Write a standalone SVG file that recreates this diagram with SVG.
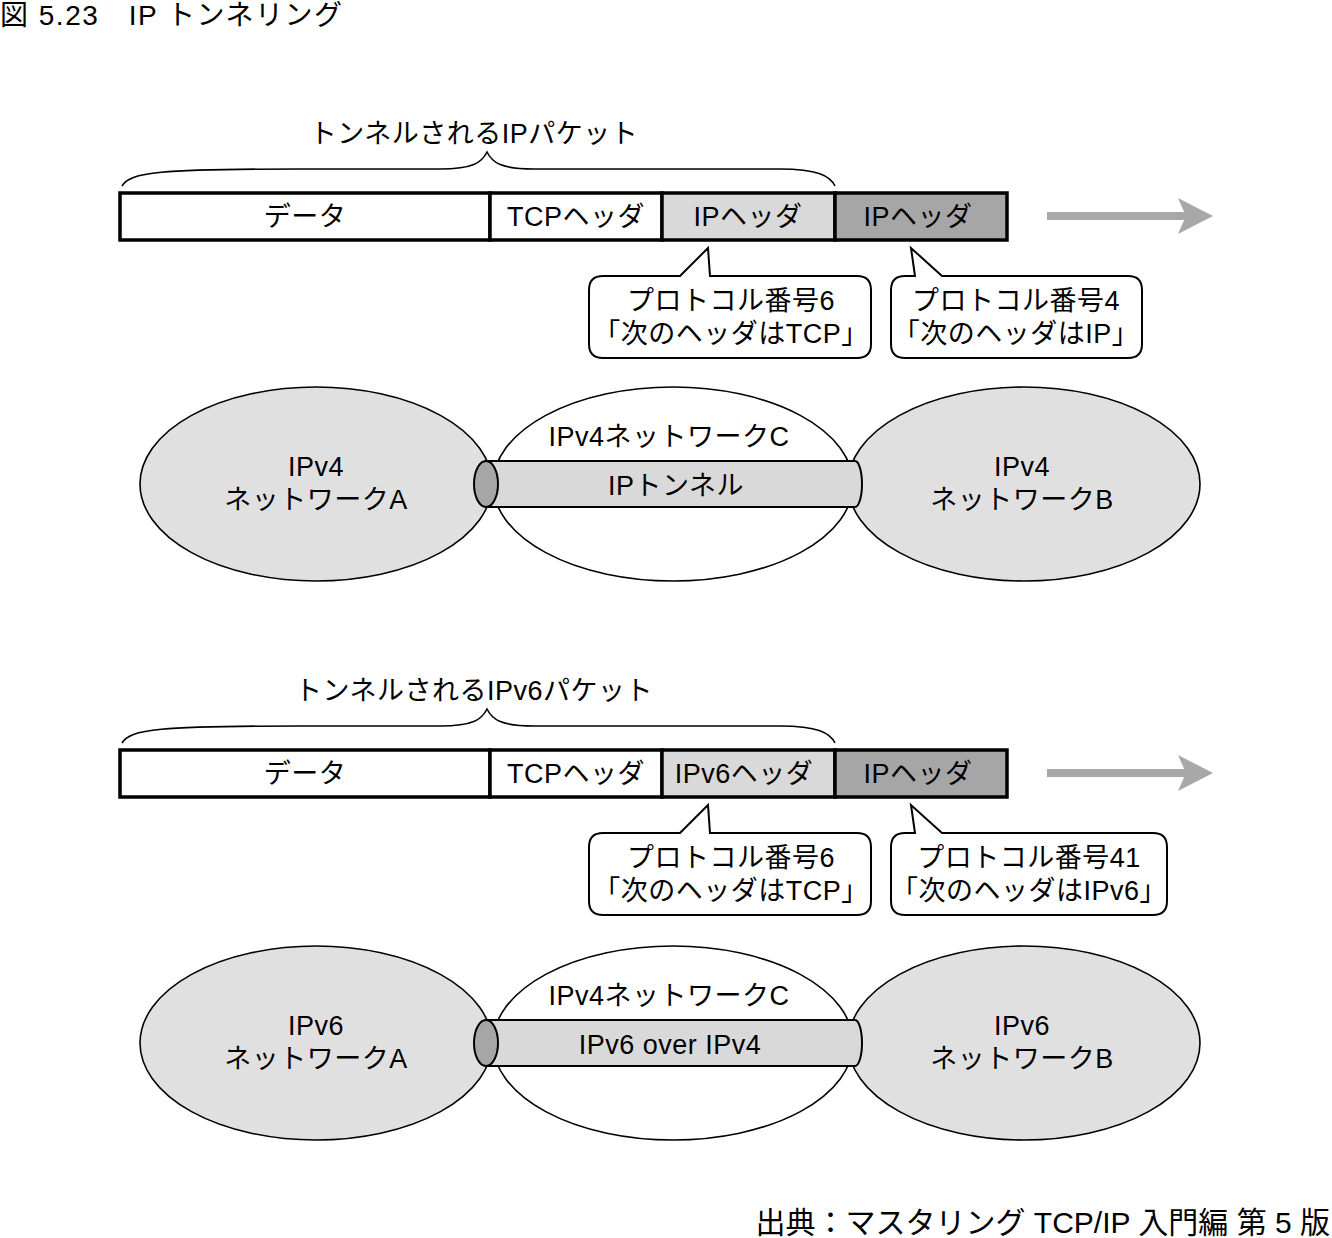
<svg xmlns="http://www.w3.org/2000/svg" width="1332" height="1238" viewBox="0 0 1332 1238">
<style>
text{font-family:"Liberation Sans","Noto Sans CJK JP",sans-serif;font-size:27px;fill:#000;text-anchor:middle;letter-spacing:0.5px}
.t{text-anchor:start}
.seg{stroke:#000;stroke-width:3.5}
.ell{stroke:#000;stroke-width:1.6}
.brace{fill:none;stroke:#000;stroke-width:1.6}
.call{fill:#fff;stroke:#000;stroke-width:2}
.tube{fill:#d9d9d9;stroke:#000;stroke-width:2}
.cap{fill:#a6a6a6;stroke:#000;stroke-width:2}
.arr{stroke:#a8a8a8;stroke-width:8}
</style>
<defs>
<path id="brace" class="brace" d="M122,186 C130,172 160,169 300,169 L440,169 C474,169 482,162 487,152 C492,162 500,169 534,169 L780,169 C818,169 830,176 835,186"/>
</defs>
<text class="t" x="0" y="25" style="font-size:28px;letter-spacing:1.5px">図 5.23　IP トンネリング</text>

<g id="upper">
<use href="#brace"/>
<text x="474" y="143">トンネルされるIPパケット</text>
<g id="packet1">
<rect class="seg" x="120" y="193" width="370" height="47" fill="#fff"/>
<rect class="seg" x="490" y="193" width="172" height="47" fill="#fff"/>
<rect class="seg" x="662" y="193" width="173" height="47" fill="#d9d9d9"/>
<rect class="seg" x="835" y="193" width="172" height="47" fill="#a6a6a6"/>
<text x="305" y="226">データ</text>
<text x="576" y="226">TCPヘッダ</text>
<text x="748" y="226">IPヘッダ</text>
<text x="918" y="226">IPヘッダ</text>
</g>
<g id="arrow1">
<line class="arr" x1="1047" y1="216" x2="1190" y2="216"/>
<polygon points="1178,198 1213,216 1178,234 1186,216" fill="#a8a8a8"/>
</g>
<g id="callout1a">
<path class="call" d="M603,276 L680,276 L708,248 L710,276 L857,276 Q871,276 871,290 L871,344 Q871,358 857,358 L603,358 Q589,358 589,344 L589,290 Q589,276 603,276 Z"/>
<text x="731" y="310">プロトコル番号6</text>
<text x="731" y="343">「次のヘッダはTCP」</text>
</g>
<g id="callout1b">
<path class="call" d="M905,276 L915,276 L911,248 L942,276 L1128,276 Q1142,276 1142,290 L1142,344 Q1142,358 1128,358 L905,358 Q891,358 891,344 L891,290 Q891,276 905,276 Z"/>
<text x="1016" y="310">プロトコル番号4</text>
<text x="1016" y="343">「次のヘッダはIP」</text>
</g>
<g id="netA1">
<ellipse class="ell" cx="316" cy="484" rx="176" ry="97" fill="#e0e0e0"/>
<text x="316" y="476">IPv4</text>
<text x="316" y="509">ネットワークA</text>
</g>
<g id="netC1">
<ellipse class="ell" cx="673" cy="484" rx="180" ry="97" fill="#fff"/>
<text x="669" y="446">IPv4ネットワークC</text>
</g>
<g id="netB1">
<ellipse class="ell" cx="1024" cy="484" rx="176" ry="97" fill="#e0e0e0"/>
<text x="1022" y="476">IPv4</text>
<text x="1022" y="509">ネットワークB</text>
</g>
<g id="tunnel1">
<path class="tube" d="M486,461 L855,461 A7,23 0 0 1 855,507 L486,507 Z"/>
<ellipse class="cap" cx="486" cy="484" rx="12" ry="23"/>
<text x="676" y="495">IPトンネル</text>
</g>
</g>

<g id="lower" transform="translate(0,557)">
<use href="#brace"/>
<text x="474" y="143">トンネルされるIPv6パケット</text>
<g id="packet2">
<rect class="seg" x="120" y="193" width="370" height="47" fill="#fff"/>
<rect class="seg" x="490" y="193" width="172" height="47" fill="#fff"/>
<rect class="seg" x="662" y="193" width="173" height="47" fill="#d9d9d9"/>
<rect class="seg" x="835" y="193" width="172" height="47" fill="#a6a6a6"/>
<text x="305" y="226">データ</text>
<text x="576" y="226">TCPヘッダ</text>
<text x="744" y="226">IPv6ヘッダ</text>
<text x="918" y="226">IPヘッダ</text>
</g>
<g id="arrow2">
<line class="arr" x1="1047" y1="216" x2="1190" y2="216"/>
<polygon points="1178,198 1213,216 1178,234 1186,216" fill="#a8a8a8"/>
</g>
<g id="callout2a">
<path class="call" d="M603,276 L680,276 L708,248 L710,276 L857,276 Q871,276 871,290 L871,344 Q871,358 857,358 L603,358 Q589,358 589,344 L589,290 Q589,276 603,276 Z"/>
<text x="731" y="310">プロトコル番号6</text>
<text x="731" y="343">「次のヘッダはTCP」</text>
</g>
<g id="callout2b">
<path class="call" d="M905,276 L915,276 L911,248 L942,276 L1153,276 Q1167,276 1167,290 L1167,344 Q1167,358 1153,358 L905,358 Q891,358 891,344 L891,290 Q891,276 905,276 Z"/>
<text x="1029" y="310">プロトコル番号41</text>
<text x="1029" y="343">「次のヘッダはIPv6」</text>
</g>
<g transform="translate(0,2)">
<g id="netA2">
<ellipse class="ell" cx="316" cy="484" rx="176" ry="97" fill="#e0e0e0"/>
<text x="316" y="476">IPv6</text>
<text x="316" y="509">ネットワークA</text>
</g>
<g id="netC2">
<ellipse class="ell" cx="673" cy="484" rx="180" ry="97" fill="#fff"/>
<text x="669" y="446">IPv4ネットワークC</text>
</g>
<g id="netB2">
<ellipse class="ell" cx="1024" cy="484" rx="176" ry="97" fill="#e0e0e0"/>
<text x="1022" y="476">IPv6</text>
<text x="1022" y="509">ネットワークB</text>
</g>
<g id="tunnel2">
<path class="tube" d="M486,461 L855,461 A7,23 0 0 1 855,507 L486,507 Z"/>
<ellipse class="cap" cx="486" cy="484" rx="12" ry="23"/>
<text x="670" y="495">IPv6 over IPv4</text>
</g>
</g>
</g>

<text x="1330" y="1233" style="text-anchor:end;font-size:30px;letter-spacing:0px">出典：マスタリング TCP/IP 入門編 第 5 版</text>
</svg>
